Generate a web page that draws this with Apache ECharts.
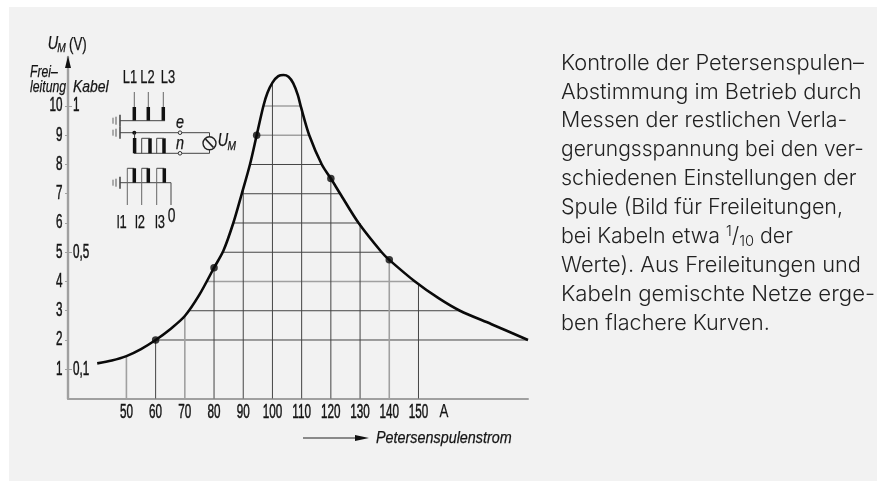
<!DOCTYPE html>
<html><head><meta charset="utf-8">
<style>html,body{margin:0;padding:0;background:#fff}#c{width:877px;height:481px}</style>
<script src="https://cdn.jsdelivr.net/npm/echarts@6/dist/echarts.min.js"></script>
</head><body><div id="c"></div>
<script>
const curve = [[40,1.2],[45,1.3],[50,1.45],[55,1.69],[60,2.0],[65,2.37],[70,2.82],[75,3.55],[80,4.47],[83.2,5.05],[86.6,6.0],[89.5,7.0],[92.3,8.0],[94.6,9.0],[96.9,10.0],[98.3,10.45],[100,10.8],[102,11.02],[103.8,11.06],[105.5,11.0],[107.1,10.78],[108.7,10.37],[109.8,9.95],[112.6,9.0],[116.9,8.0],[120,7.52],[123.2,7.0],[129.5,6.0],[137.4,5.0],[140,4.74],[148.8,4.0],[157,3.42],[164.2,3.0],[175,2.54],[187.5,2.0]];
const dots = [[60,2.0],[80,4.47],[94.6,9.0],[120,7.52],[140,4.74]];
const hLevels = [2,3,4,5,6,7,8,9,10];
const hLeft = [60,71,77.5,83.2,86.6,89.5,92.3,94.6,96.9];
const hRight = [187.5,164.2,148.8,137.4,129.5,123.2,116.9,112.6,109.8];
const vPos = [50,60,70,80,90,100,110,120,130,140,150];
const vTop = [1.45,2.0,2.82,4.47,7.15,10.8,9.95,7.52,6.0,4.74,3.92];
const lightH = [4,9,10];
const lightV = [50,70,140];
const yLabels = [1,2,3,4,5,6,7,8,9,10];
const kabelPos = [1,5,10];
const kabelTxt = ['0,1','0,5','1'];
const xLabels = [50,60,70,80,90,100,110,120,130,140,150];
const note = ['Kontrolle der Petersenspulen–','Abstimmung im Betrieb durch','Messen der restlichen Verla-','gerungsspannung bei den ver-','schiedenen Einstellungen der','Spule (Bild für Freileitungen,','bei Kabeln etwa {s|1}/{b|10} der','Werte). Aus Freileitungen und','Kabeln gemischte Netze erge-','ben flachere Kurven.'];
const noteFit = [1,1,.98,.965,.987,.986,.98,1,1.017,.99];

const SANS = '"Liberation Sans",sans-serif';
const INK = '#141414', GREY='#a0a0a0', PANEL='#f2f2f2';
const NOTEFONT='300 21.8px Inter,'+SANS;
const seg = (a,b,light)=>({type:'line',data:[a,b],symbol:'none',silent:true,z:2,lineStyle:{width:light?1.6:1,color:light?GREY:'#444'}});
const numStyle=(t,align)=>({text:t,fill:INK,stroke:INK,lineWidth:.5,font:'19.5px '+SANS,align,verticalAlign:'middle'});
const labelSeries=(values,fn)=>({type:'custom',data:values.map(v=>[v]),silent:true,z:7,encode:{x:-1,y:-1},renderItem:(p,api)=>fn(api,api.value(0))});
const series = [];
hLevels.forEach((y,i)=>series.push(seg([hLeft[i],y],[hRight[i],y],lightH.includes(y))));
vPos.forEach((x,i)=>series.push(seg([x,0],[x,vTop[i]],lightV.includes(x))));
series.push({type:'line',data:curve,smooth:0.3,symbol:'none',z:5,lineStyle:{width:2.6,color:'#0a0a0a'}});
series.push({type:'scatter',data:dots,symbol:'circle',symbolSize:7.5,z:6,itemStyle:{color:'#0a0a0a'}});
series.push(labelSeries(xLabels,(api,v)=>{const c=api.coord([v,0]);return {type:'text',x:c[0],y:c[1]+14,scaleX:.6,style:numStyle(String(v),'center')};}));
series.push(labelSeries(yLabels,(api,v)=>{const c=api.coord([30,v]);return {type:'text',x:c[0]-5.5,y:c[1],scaleX:.6,style:numStyle(String(v),'right')};}));
series.push(labelSeries(kabelPos,(api,v)=>{const c=api.coord([30,v]);return {type:'text',x:c[0]+5,y:c[1],scaleX:.6,style:numStyle(kabelTxt[kabelPos.indexOf(v)],'left')};}));

// circuit sketch and captions
const L=(x1,y1,x2,y2,w,c)=>({type:'line',shape:{x1,y1,x2,y2},style:{stroke:c||'#444',lineWidth:w||1}});
const T=(x,y,t,font,sx,align)=>({type:'text',x,y,scaleX:sx||.66,style:{text:t,fill:INK,stroke:INK,lineWidth:.25,font:font+' '+SANS,align:align||'center',verticalAlign:'middle'}});
const gfx=[{type:'rect',shape:{x:9,y:7,width:868,height:474},style:{fill:PANEL},z:-10}];
const earth=(y)=>[L(113,y-3,113,y+3,1,'#666'),L(116,y-4,116,y+4,1,'#555'),L(120,y-6,120,y+6,1.4,'#333')];
// upper winding
[134.3,148.3,163.3].forEach(x=>gfx.push(L(x,92,x,107,1,'#666'),L(x,107,x,121,3.5,'#111')));
gfx.push(...earth(120.7),L(120,120.7,165,120.7));
// middle winding
gfx.push(...earth(132.7),L(120,132.7,209.5,132.7),L(209.5,132.7,209.5,153.3),L(134,153.3,209.5,153.3));
gfx.push({type:'circle',shape:{cx:134.3,cy:132.7,r:2},style:{fill:'#111'}});
gfx.push(L(134.6,138,134.6,153.3,3.5,'#111'),L(150,138.3,150,153.3,3.5,'#111'),L(164,138.3,164,153.3,3.5,'#111'),L(134.6,132.7,134.6,138,1,'#333'));
gfx.push(L(141.7,138.3,141.7,153.3),L(156.7,138.3,156.7,153.3),L(141.7,138.3,150,138.3),L(156.7,138.3,164,138.3));
[132.7,153.3].forEach(y=>gfx.push({type:'circle',shape:{cx:180,cy:y,r:1.8},style:{fill:PANEL,stroke:'#333',lineWidth:1}}));
gfx.push({type:'circle',shape:{cx:209.5,cy:143.3,r:6.5},style:{fill:PANEL,stroke:'#222',lineWidth:1.4}},L(205.5,139,213.5,147.5,1.8,'#222'));
// lower winding
gfx.push(...earth(182.7),L(120,182.7,171,182.7),L(171,182.7,171,205));
[[127.3,134.3],[141.7,148.3],[156.7,164.3]].forEach(([a,b])=>gfx.push(L(a,168.3,a,205,1,'#666'),L(a,168.3,b,168.3),L(b,168.3,b,182.7,3.5,'#111')));
// sketch and axis captions
gfx.push(T(130,78,'L1','18px',.72),T(147.5,78,'L2','18px',.72),T(168,78,'L3','18px',.72));
gfx.push(T(121.7,222.7,'l1','18px',.72),T(140,222.7,'l2','18px',.72),T(160,222.7,'l3','18px',.72),T(171.7,216.7,'0','21px',.66));
gfx.push(T(180,123,'e','italic 18px',.8),T(180,144,'n','italic 18px',.8));
gfx.push(T(223,141,'U','italic 18px',.8),T(231.7,147,'M','italic 12px',.85));
gfx.push(T(53,44,'U','italic 18px',.8),T(61.5,49,'M','italic 12px',.85),T(69,45,'(V)','19px',.7,'left'));
gfx.push(T(30,72,'Frei–','italic 17px',.72,'left'),T(30,87.7,'leitung','italic 17px',.72,'left'),T(73,87.7,'Kabel','italic 17px',.82,'left'));
gfx.push({type:'polygon',shape:{points:[[68,56],[65,68],[71,68]]},style:{fill:'#111'},z:10});
gfx.push(L(303,438,358,438,1,'#222'),{type:'polygon',shape:{points:[[355,435],[369,438],[355,441]]},style:{fill:'#111'}},T(376,438,'Petersenspulenstrom','italic 17px',.845,'left'));
gfx.push(T(444,412,'A','19px',.7));
note.forEach((t,i)=>gfx.push({type:'text',x:561,y:63+i*28.95,scaleX:noteFit[i],style:{rich:{s:{font:'300 15px Inter,'+SANS,verticalAlign:'top',padding:[0,0,10,0],fill:'#222'},b:{font:'300 15px Inter,'+SANS,verticalAlign:'bottom',padding:[8,0,0,0],fill:'#222'}},text:t,fill:'#222',font:NOTEFONT,verticalAlign:'middle'}}));

const chart=echarts.init(document.getElementById('c'),null,{renderer:'canvas'});
chart.setOption({
 animation:false,backgroundColor:'#fff',
 grid:{left:68,top:57,width:460,height:341.5},
 xAxis:{type:'value',min:30,max:187.5,splitLine:{show:false},
  axisLine:{onZero:false,lineStyle:{color:GREY,width:2}},axisTick:{show:false},axisLabel:{show:false}},
 yAxis:[
  {type:'value',min:0,max:11.675,splitLine:{show:false},
   axisLine:{show:true,lineStyle:{color:GREY,width:2.4}},
   axisTick:{show:true,length:3,customValues:yLabels,lineStyle:{color:GREY,width:1}},
   axisLabel:{show:false}},
  {type:'value',min:0,max:11.675,position:'left',splitLine:{show:false},
   axisLine:{show:false},
   axisTick:{show:true,inside:true,length:4,customValues:kabelPos,lineStyle:{color:GREY,width:1}},
   axisLabel:{show:false}}
 ],
 series,graphic:{elements:gfx}
});
</script></body></html>
